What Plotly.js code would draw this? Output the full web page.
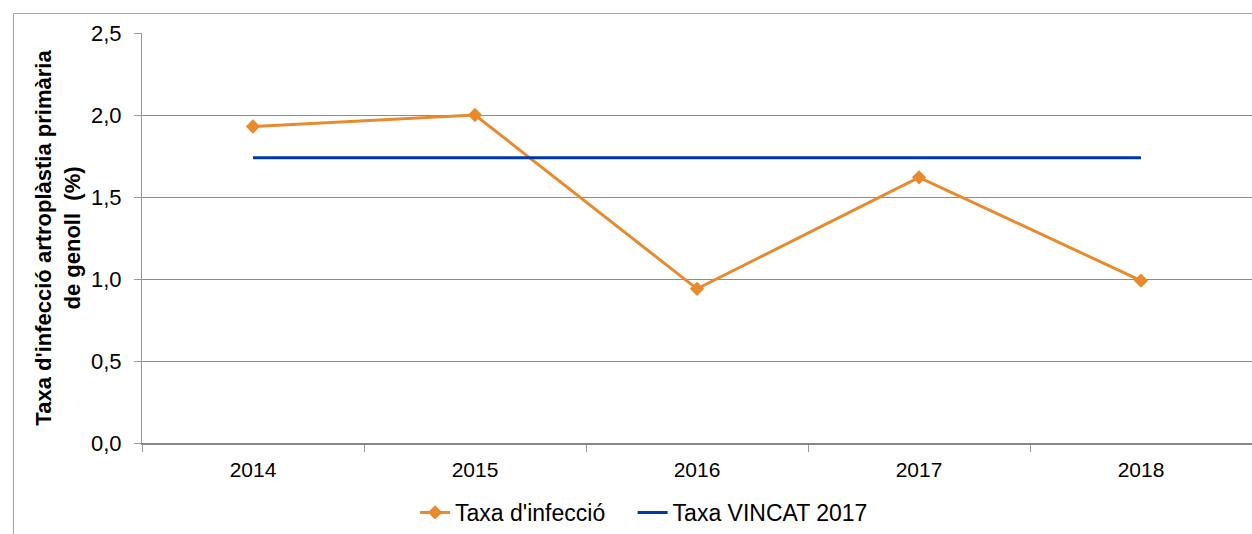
<!DOCTYPE html>
<html><head><meta charset="utf-8">
<script src="https://cdn.plot.ly/plotly-3.0.1.min.js"></script>
<style>
html,body{margin:0;padding:0;background:#fff;}
#frame{position:absolute;left:13px;top:13px;width:1300px;height:600px;border-left:1.5px solid #a6a6a6;border-top:1.5px solid #a6a6a6;}
#chart{position:absolute;left:0;top:0;width:1252px;height:534px;}
</style></head>
<body>
<div id="frame"></div>
<div id="chart"></div>
<script>
const years = ['2014','2015','2016','2017','2018'];
const infectionRate = [1.93, 2.00, 0.94, 1.62, 0.99];
const vincat2017 = [1.74, 1.74, 1.74, 1.74, 1.74];
const yTickVals = [0, 0.5, 1, 1.5, 2, 2.5];
const yTickText = ['0,0','0,5','1,0','1,5','2,0','2,5'];

const traces = [
  {x: years, y: infectionRate, name: "Taxa d'infecció", type: 'scatter', mode: 'lines+markers',
   line: {color: '#E98A2C', width: 3}, marker: {symbol: 'diamond', size: 11, color: '#E98A2C'},
   legend: 'legend'},
  {x: years, y: vincat2017, name: 'Taxa VINCAT 2017', type: 'scatter', mode: 'lines',
   line: {color: '#0038A8', width: 3}, legend: 'legend2'}
];

const legendCommon = {orientation: 'h', xanchor: 'left', y: -0.17, yanchor: 'middle',
                      font: {size: 23}, itemwidth: 30, bgcolor: 'rgba(0,0,0,0)'};

const layout = {
  width: 1252, height: 534,
  margin: {l: 142, r: 0, t: 33, b: 86},
  paper_bgcolor: 'rgba(0,0,0,0)', plot_bgcolor: 'rgba(0,0,0,0)',
  font: {family: 'Liberation Sans, Arial, sans-serif', size: 22, color: '#000'},
  showlegend: true,
  legend: Object.assign({x: 0.246}, legendCommon),
  legend2: Object.assign({x: 0.442}, legendCommon),
  xaxis: {type: 'category', range: [-0.5, 4.5], showgrid: false, showline: true,
          linecolor: '#888', linewidth: 2, ticks: 'outside', tickson: 'boundaries',
          ticklen: 7, tickcolor: '#999', tickwidth: 1, tickfont: {size: 21},
          ticklabelstandoff: 7, fixedrange: true},
  yaxis: {range: [0, 2.5], tickvals: yTickVals, ticktext: yTickText, showgrid: true,
          gridcolor: '#8c8c8c', gridwidth: 1, showline: true, linecolor: '#999', linewidth: 1,
          ticks: 'outside', ticklen: 7, tickcolor: '#999', zeroline: false, tickfont: {size: 22},
          ticklabelstandoff: 8,
          title: {text: "<b>Taxa d'infecció artroplàstia primària<br>de genoll  (%)</b>",
                  font: {size: 22}, standoff: 4}}
};

Plotly.newPlot('chart', traces, layout, {displayModeBar: false, staticPlot: true});
</script>
</body></html>
